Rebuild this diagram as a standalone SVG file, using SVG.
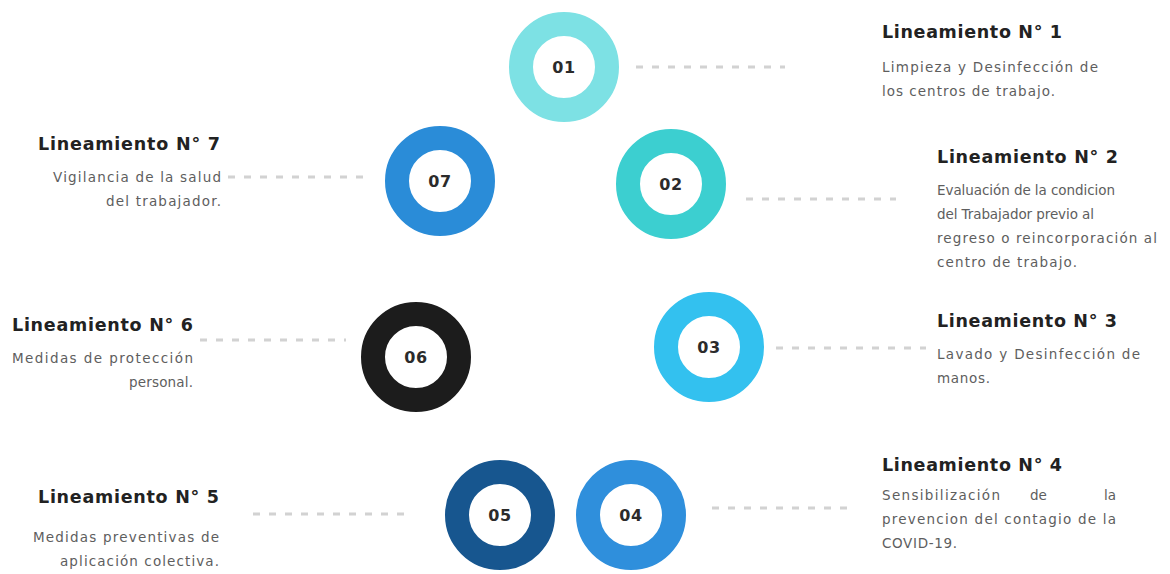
<svg xmlns="http://www.w3.org/2000/svg" width="1170" height="574" viewBox="0 0 1170 574">
<style>
.ring{fill:#ffffff;stroke-width:24}
.num{font-family:"DejaVu Sans","Liberation Sans",sans-serif;font-weight:700;font-size:16px;fill:#2b2b2b;text-anchor:middle;letter-spacing:0.5px}
.h{font-family:"DejaVu Sans","Liberation Sans",sans-serif;font-weight:700;font-size:17.5px;fill:#222222}
.d{font-family:"DejaVu Sans","Liberation Sans",sans-serif;font-size:13.5px;fill:#5e5e5e}
.e{text-anchor:end}
.dash{stroke:#d2d2d2;stroke-width:3;stroke-dasharray:7 9;fill:none}
</style>
<rect width="1170" height="574" fill="#ffffff"/>
<g id="connectors">
<line class="dash" x1="636" y1="67" x2="785" y2="67"/>
<line class="dash" x1="228" y1="177" x2="366" y2="177"/>
<line class="dash" x1="746" y1="199" x2="896" y2="199"/>
<line class="dash" x1="200" y1="340" x2="346" y2="340"/>
<line class="dash" x1="776" y1="348" x2="926" y2="348"/>
<line class="dash" x1="253" y1="514" x2="404" y2="514"/>
<line class="dash" x1="712" y1="508" x2="856" y2="508"/>
</g>
<g id="node01">
<circle class="ring" cx="564" cy="67" r="43" stroke="#7de1e4"/>
<text class="num" x="564" y="73">01</text>
<text class="h" x="882" y="38" textLength="180" lengthAdjust="spacing">Lineamiento N° 1</text>
<text class="d" x="882" y="72" textLength="216" lengthAdjust="spacing">Limpieza y Desinfección de</text>
<text class="d" x="882" y="96" textLength="173" lengthAdjust="spacing">los centros de trabajo.</text>
</g>
<g id="node07">
<circle class="ring" cx="440" cy="181" r="43" stroke="#2a8cd8"/>
<text class="num" x="440" y="187">07</text>
<text class="h" x="38" y="150" textLength="182" lengthAdjust="spacing">Lineamiento N° 7</text>
<text class="d e" x="221" y="182" textLength="168" lengthAdjust="spacing">Vigilancia de la salud</text>
<text class="d e" x="221" y="206" textLength="115" lengthAdjust="spacing">del trabajador.</text>
</g>
<g id="node02">
<circle class="ring" cx="671" cy="184" r="43" stroke="#3ccfd0"/>
<text class="num" x="671" y="190">02</text>
<text class="h" x="937" y="163" textLength="181" lengthAdjust="spacing">Lineamiento N° 2</text>
<text class="d" x="937" y="195" textLength="178" lengthAdjust="spacing">Evaluación de la condicion</text>
<text class="d" x="937" y="219" textLength="157" lengthAdjust="spacing">del Trabajador previo al</text>
<text class="d" x="937" y="243" textLength="220" lengthAdjust="spacing">regreso o reincorporación al</text>
<text class="d" x="937" y="267" textLength="140" lengthAdjust="spacing">centro de trabajo.</text>
</g>
<g id="node06">
<circle class="ring" cx="416" cy="357" r="43" stroke="#1c1c1c"/>
<text class="num" x="416" y="363">06</text>
<text class="h" x="12" y="331" textLength="181" lengthAdjust="spacing">Lineamiento N° 6</text>
<text class="d" x="12" y="363" textLength="181" lengthAdjust="spacing">Medidas de protección</text>
<text class="d e" x="193" y="387" textLength="64" lengthAdjust="spacing">personal.</text>
</g>
<g id="node03">
<circle class="ring" cx="709" cy="347" r="43" stroke="#33c1ef"/>
<text class="num" x="709" y="353">03</text>
<text class="h" x="937" y="327" textLength="180" lengthAdjust="spacing">Lineamiento N° 3</text>
<text class="d" x="937" y="359" textLength="203" lengthAdjust="spacing">Lavado y Desinfección de</text>
<text class="d" x="937" y="383" textLength="53" lengthAdjust="spacing">manos.</text>
</g>
<g id="node05">
<circle class="ring" cx="500" cy="515" r="43" stroke="#17568f"/>
<text class="num" x="500" y="521">05</text>
<text class="h" x="38" y="503" textLength="181" lengthAdjust="spacing">Lineamiento N° 5</text>
<text class="d e" x="219" y="542" textLength="186" lengthAdjust="spacing">Medidas preventivas de</text>
<text class="d e" x="219" y="566" textLength="159" lengthAdjust="spacing">aplicación colectiva.</text>
</g>
<g id="node04">
<circle class="ring" cx="631" cy="515" r="43" stroke="#2f8fdc"/>
<text class="num" x="631" y="521">04</text>
<text class="h" x="882" y="471" textLength="180" lengthAdjust="spacing">Lineamiento N° 4</text>
<text class="d" x="882" y="500" textLength="118" lengthAdjust="spacing">Sensibilización</text>
<text class="d" x="1030" y="500">de</text>
<text class="d e" x="1116" y="500">la</text>
<text class="d" x="882" y="524" textLength="234" lengthAdjust="spacing">prevencion del contagio de la</text>
<text class="d" x="882" y="548" textLength="75" lengthAdjust="spacing">COVID-19.</text>
</g>
</svg>
